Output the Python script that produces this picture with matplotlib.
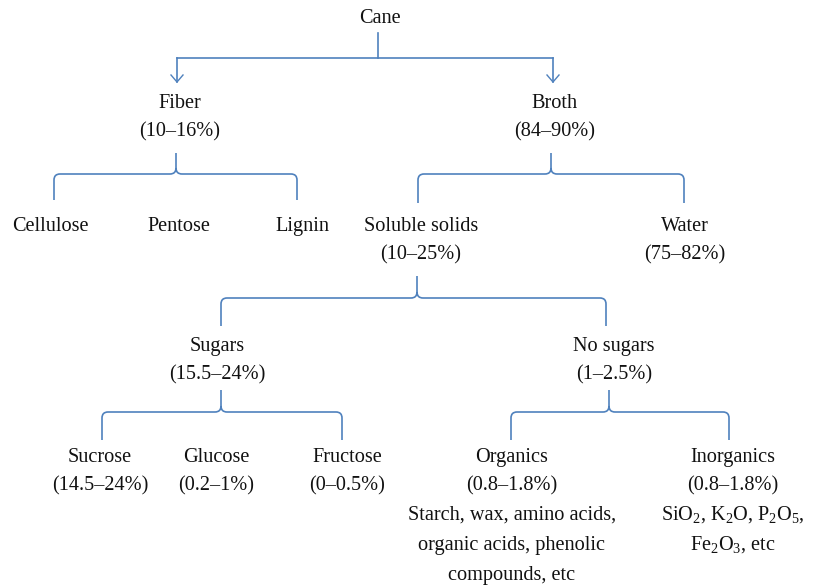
import matplotlib
matplotlib.use("Agg")
import matplotlib.pyplot as plt
from matplotlib.path import Path
import matplotlib.patches as mpatches

plt.rcParams['font.family'] = ['Liberation Serif', 'DejaVu Serif']
plt.rcParams['mathtext.fontset'] = 'custom'
plt.rcParams['mathtext.rm'] = 'Liberation Serif'
plt.rcParams['mathtext.it'] = 'Liberation Serif:italic'

# node labels (text lines of each box)
root = ["Cane"]
level1 = [["Fiber", "(10–16%)"], ["Broth", "(84–90%)"]]
fiber_parts = [["Cellulose"], ["Pentose"], ["Lignin"]]
broth_parts = [["Soluble solids", "(10–25%)"], ["Water", "(75–82%)"]]
solids_parts = [["Sugars", "(15.5–24%)"], ["No sugars", "(1–2.5%)"]]
sugar_parts = [["Sucrose", "(14.5–24%)"], ["Glucose", "(0.2–1%)"], ["Fructose", "(0–0.5%)"]]
nosugar_parts = [
    ["Organics", "(0.8–1.8%)", "Starch, wax, amino acids,", "organic acids, phenolic", "compounds, etc"],
    ["Inorganics", "(0.8–1.8%)",
     r"SiO$_{\mathrm{2}}$, K$_{\mathrm{2}}$O, P$_{\mathrm{2}}$O$_{\mathrm{5}}$,",
     r"Fe$_{\mathrm{2}}$O$_{\mathrm{3}}$, etc"],
]

# layout (pixel coords, y down)
LINE = '#4f81bd'
FS = 14.6
rows = {
    'root': 17, 'l1': 102, 'fiber': 225, 'broth': 225,
    'solids': 345, 'sugar': 456, 'nosugar': 456,
}
xs = {
    'root': [380],
    'l1': [180, 555],
    'fiber': [50, 179, 302],
    'broth': [421, 685],
    'solids': [217, 614],
    'sugar': [100, 216, 347],
    'nosugar': [512, 733],
}

fig = plt.figure(figsize=(8.14, 5.87), dpi=100)
ax = fig.add_axes([0, 0, 1, 1])
ax.set_xlim(0, 814)
ax.set_ylim(587, 0)
ax.axis('off')


def put(lines, x, y):
    for i, s in enumerate(lines):
        gap = [0, 28, 58, 88, 118][i]
        ax.text(x, y + gap + 6, s, ha='center', va='baseline', fontsize=FS, color='#111111')


def brace(xl, xt, xr, ytop, yh, ybot, r=6):
    verts = [(xl, ybot), (xl, yh + r), (xl, yh), (xl + r, yh), (xt - r, yh), (xt, yh), (xt, yh - r),
             (xt, ytop), (xt, yh - r), (xt, yh), (xt + r, yh), (xr - r, yh), (xr, yh), (xr, yh + r), (xr, ybot)]
    codes = [Path.MOVETO, Path.LINETO, Path.CURVE3, Path.CURVE3, Path.LINETO, Path.CURVE3, Path.CURVE3,
             Path.LINETO, Path.MOVETO, Path.CURVE3, Path.CURVE3, Path.LINETO, Path.CURVE3, Path.CURVE3, Path.LINETO]
    ax.add_patch(mpatches.PathPatch(Path(verts, codes), fill=False, edgecolor=LINE, lw=1.2))


# texts
put(root, xs['root'][0], rows['root'])
for lab, x in zip(level1, xs['l1']):
    put(lab, x, rows['l1'])
for lab, x in zip(fiber_parts, xs['fiber']):
    put(lab, x, rows['fiber'])
for lab, x in zip(broth_parts, xs['broth']):
    put(lab, x, rows['broth'])
for lab, x in zip(solids_parts, xs['solids']):
    put(lab, x, rows['solids'])
for lab, x in zip(sugar_parts, xs['sugar']):
    put(lab, x, rows['sugar'])
for lab, x in zip(nosugar_parts, xs['nosugar']):
    put(lab, x, rows['nosugar'])

# top arrows
ax.plot([378, 378], [33, 58], color=LINE, lw=1.2)
ax.plot([177, 553], [58, 58], color=LINE, lw=1.2)
for x in [177, 553]:
    ax.plot([x, x], [58, 82], color=LINE, lw=1.2)
    ax.plot([x - 6, x, x + 6], [75, 82, 75], color=LINE, lw=1.0)

# braces
brace(54, 176, 297, 153, 174, 200)
brace(418, 551, 684, 153, 174, 203)
brace(221, 417, 606, 276, 298, 326)
brace(102, 221, 342, 390, 412, 440)
brace(511, 609, 729, 390, 412, 440)

fig.savefig('out.png', dpi=100)
